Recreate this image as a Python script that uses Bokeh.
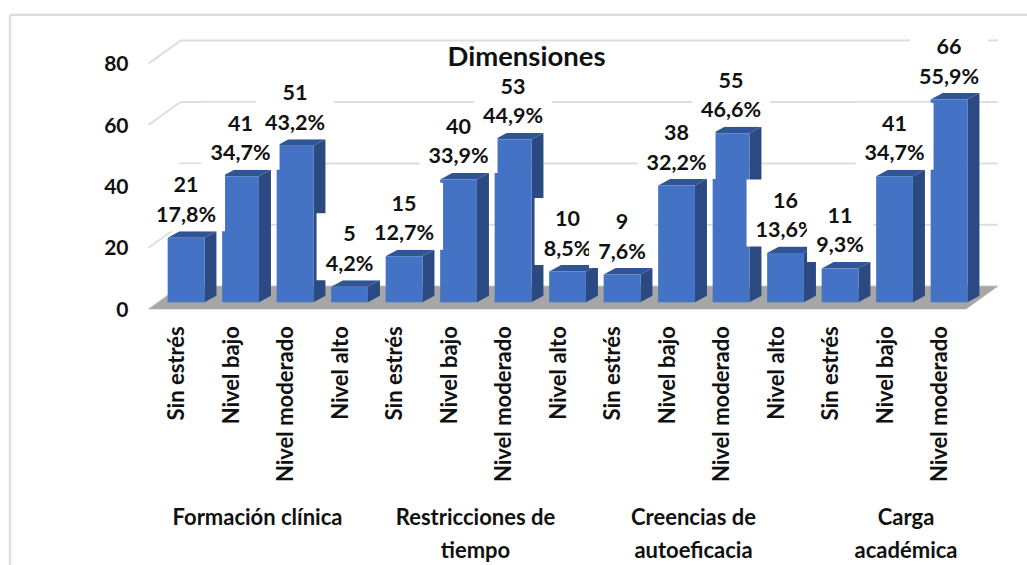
from bokeh.plotting import figure
from bokeh.models import Range1d, LinearAxis, FixedTicker, ColumnDataSource
from bokeh.core.properties import value
from bokeh.embed import file_html
from bokeh.resources import INLINE
import math

groups = ["Formación clínica", "Restricciones de\ntiempo", "Creencias de\nautoeficacia", "Carga\nacadémica"]
categories = ["Sin estrés", "Nivel bajo", "Nivel moderado", "Nivel alto",
              "Sin estrés", "Nivel bajo", "Nivel moderado", "Nivel alto",
              "Sin estrés", "Nivel bajo", "Nivel moderado", "Nivel alto",
              "Sin estrés", "Nivel bajo", "Nivel moderado"]
counts = [21, 41, 51, 5, 15, 40, 53, 10, 9, 38, 55, 16, 11, 41, 66]
percents = ["17,8%", "34,7%", "43,2%", "4,2%", "12,7%", "33,9%", "44,9%", "8,5%",
            "7,6%", "32,2%", "46,6%", "13,6%", "9,3%", "34,7%", "55,9%"]
y_ticks = [0, 20, 40, 60, 80]
title = "Dimensiones"

FONT = "Lato"
PX_SLOT = 54.5
PX_UNIT = 3.07
W, H = 1027, 565
X0, Y0 = 148, 308.7   # where slot 0 / value 0 fall on the page
FRONT, SIDE, TOP = "#4472C4", "#2B4A82", "#2F5597"
GRID, FLOOR = "#DEDEDE", "#A6A6A6"
INK = "#111111"

def sx(px):
    return px / PX_SLOT
def sy(px):
    return px / PX_UNIT

p = figure(width=W, height=H, output_backend="svg", toolbar_location=None,
           x_range=Range1d(sx(-X0), sx(W - X0)),
           y_range=Range1d(sy(Y0 - H), sy(Y0)),
           min_border=0, x_axis_location=None, y_axis_location=None, outline_line_color=None)
p.grid.visible = False

axis_style = dict(axis_line_color=None, major_tick_line_color=None, minor_tick_line_color=None,
                  major_label_text_font=FONT, major_label_text_font_style="bold",
                  major_label_text_color=INK)

yax = LinearAxis(ticker=FixedTicker(ticks=y_ticks), fixed_location=0, major_label_standoff=14,
                 major_label_text_font_size="21px", **axis_style)
p.add_layout(yax, "left")

xticks = [i + 0.5 for i in range(len(categories))]
xax = LinearAxis(ticker=FixedTicker(ticks=xticks), fixed_location=0,
                 major_label_overrides={t: c for t, c in zip(xticks, categories)},
                 major_label_orientation=math.pi / 2, major_label_standoff=11,
                 major_label_text_font_size="22px", **axis_style)
p.add_layout(xax, "below")

gticks = [2.0, 6.0, 10.0, 13.9]
gax = LinearAxis(ticker=FixedTicker(ticks=gticks), fixed_location=sy(-188),
                 major_label_overrides={t: g for t, g in zip(gticks, groups)},
                 major_label_standoff=0, major_label_text_font_size="22px", **axis_style)
p.add_layout(gax, "below")

# outer frame lines of the chart area
p.segment(x0=[sx(9.5 - X0), sx(9.5 - X0)], y0=[sy(Y0 - 14.3), sy(Y0 - 14.3)],
          x1=[sx(W - X0), sx(9.5 - X0)], y1=[sy(Y0 - 14.3), sy(Y0 - H)],
          line_color=GRID, line_width=2.4)

# walls + floor
n = len(categories)
wall_dx, wall_dy = sx(32), sy(23)
p.segment(x0=[wall_dx] * 5, y0=[v + wall_dy for v in y_ticks],
          x1=[n + wall_dx] * 5, y1=[v + wall_dy for v in y_ticks],
          line_color=GRID, line_width=2)
p.segment(x0=[0] * 5, y0=y_ticks, x1=[wall_dx] * 5, y1=[v + wall_dy for v in y_ticks],
          line_color=GRID, line_width=2)
p.patch([0, wall_dx, n + wall_dx, n], [0, wall_dy, wall_dy, 0], fill_color=FLOOR, line_color=None)

# bars
shift, half = sx(10.3), sx(18.4)
dx, dy = sx(12), sy(6.5)
base = sy(7)
cx = [t + shift for t in xticks]
lf = [c - half for c in cx]
rt = [c + half for c in cx]
tp = [v + base for v in counts]
p.patches(xs=[[r, r + dx, r + dx, r] for r in rt],
          ys=[[base, base + dy, t + dy, t] for t in tp],
          fill_color=SIDE, line_color=None)
p.patches(xs=[[l, r, r + dx, l + dx] for l, r in zip(lf, rt)],
          ys=[[t, t, t + dy, t + dy] for t in tp],
          fill_color=TOP, line_color=None)
p.quad(left=lf, right=rt, bottom=[base] * n, top=tp, fill_color=FRONT, line_color=None)

# data labels: each white box hides whatever was drawn before it
for c, t, cnt, pct in zip(cx, tp, counts, percents):
    hw = sx(39 if len(pct) > 4 else 33)
    b = t + dy
    p.quad(left=[c - hw], right=[c + hw], bottom=[b], top=[b + sy(67)], fill_color="white", line_color=None)
    src = ColumnDataSource(dict(x=[c, c], y=[b, b], t=[pct, str(cnt)], o=[-17.5, -46.5]))
    p.text(x="x", y="y", text="t", y_offset="o", source=src, text_align="center", text_baseline="middle",
           text_font=value(FONT), text_font_style="bold", text_font_size="21.5px", text_color=INK)

# title
src = ColumnDataSource(dict(x=[sx(526 - X0)], y=[sy(Y0 - 55)], t=[title]))
p.text(x="x", y="y", text="t", source=src, text_align="center", text_baseline="middle",
       text_font=value(FONT), text_font_style="bold", text_font_size="27.5px", text_color=INK)

open("out.html", "w").write(file_html(p, INLINE))
